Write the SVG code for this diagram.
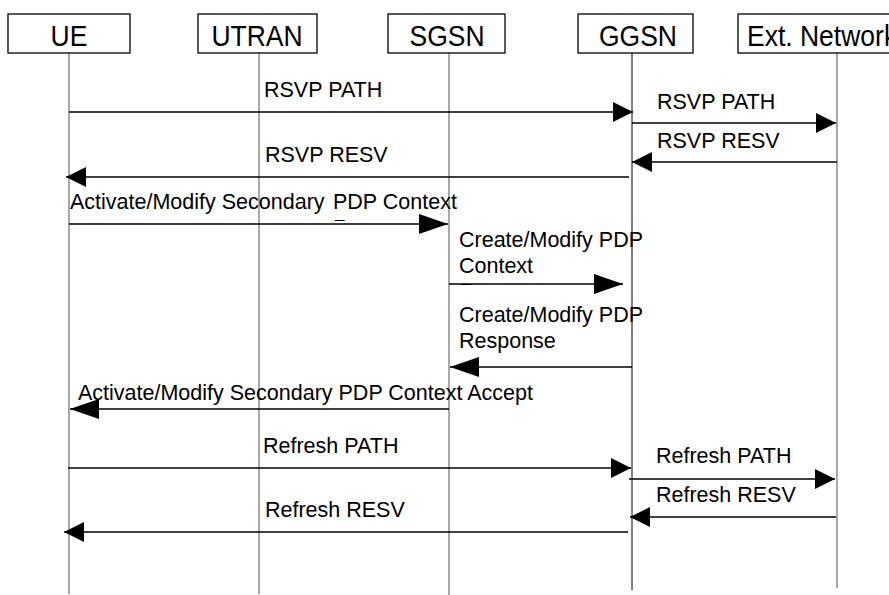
<svg xmlns="http://www.w3.org/2000/svg" width="889" height="595" viewBox="0 0 889 595">
  <style>
    .box { fill: #ffffff; stroke: #000000; stroke-width: 1.3; }
    .title { font-family: "Liberation Sans", Arial, sans-serif; font-size: 26.5px; fill: #000000; }
    .life { stroke: #7a7a7a; stroke-width: 1.3; fill: none; }
    .life-dark { stroke: #000000; stroke-width: 1; fill: none; }
    .msg { stroke: #000000; stroke-width: 1.6; fill: none; }
    .short { marker-end: url(#head); }
    .long { marker-end: url(#headLong); }
    .lbl { font-family: "Liberation Sans", Arial, sans-serif; font-size: 21.5px; fill: #000000; }
  </style>
  <defs>
    <marker id="head" markerUnits="userSpaceOnUse" markerWidth="20" markerHeight="20" refX="20" refY="10" orient="auto" viewBox="0 0 20 20">
      <path d="M0,0 L20,10 L0,20 Z" fill="#000000"/>
    </marker>
    <marker id="headLong" markerUnits="userSpaceOnUse" markerWidth="29" markerHeight="20" refX="29" refY="10" orient="auto" viewBox="0 0 29 20">
      <path d="M0,0 L29,10 L0,20 Z" fill="#000000"/>
    </marker>
    <clipPath id="cutReq1"><rect x="320" y="210" width="40" height="11"/></clipPath>
    <clipPath id="cutReq2"><rect x="450" y="276" width="40" height="9"/></clipPath>
  </defs>

  <rect width="889" height="595" fill="#ffffff"/>

  <!-- lifelines -->
  <g id="lifelines">
    <line class="life" x1="69" y1="53" x2="69" y2="594"/>
    <line class="life" x1="259" y1="53" x2="259" y2="594"/>
    <line class="life" x1="449" y1="53" x2="449" y2="595"/>
    <line class="life-dark" x1="632" y1="53" x2="632" y2="590"/>
    <line class="life" x1="837" y1="53" x2="837" y2="588"/>
  </g>

  <!-- participants (titles slightly tall, as in the source drawing) -->
  <g id="ue">
    <rect class="box" x="8" y="14" width="122" height="39"/>
    <text class="title" transform="translate(69 45.5) scale(1 1.1)" text-anchor="middle">UE</text>
  </g>
  <g id="utran">
    <rect class="box" x="198" y="14" width="119" height="39"/>
    <text class="title" transform="translate(257 45.5) scale(1 1.1)" text-anchor="middle">UTRAN</text>
  </g>
  <g id="sgsn">
    <rect class="box" x="388" y="14" width="117" height="39"/>
    <text class="title" transform="translate(447 45.5) scale(1 1.1)" text-anchor="middle">SGSN</text>
  </g>
  <g id="ggsn">
    <rect class="box" x="578" y="14" width="115" height="39"/>
    <text class="title" transform="translate(638 45.5) scale(1 1.1)" text-anchor="middle">GGSN</text>
  </g>
  <g id="ext-network">
    <rect class="box" x="738" y="14" width="170" height="39"/>
    <text class="title" transform="translate(747 45.5) scale(1 1.1)">Ext. Network</text>
  </g>

  <!-- messages -->
  <g id="connectors">
    <line class="msg short" x1="69" y1="112" x2="633" y2="112"/>
    <line class="msg short" x1="632" y1="123" x2="836" y2="123"/>
    <line class="msg short" x1="837" y1="162" x2="632" y2="162"/>
    <line class="msg short" x1="629" y1="177" x2="66" y2="177"/>
    <line class="msg long" x1="69" y1="224" x2="448" y2="224"/>
    <line class="msg long" x1="449" y1="284" x2="623" y2="284"/>
    <line class="msg long" x1="632" y1="367" x2="450" y2="367"/>
    <line class="msg long" x1="449" y1="409" x2="70" y2="409"/>
    <line class="msg short" x1="68" y1="468" x2="631" y2="468"/>
    <line class="msg short" x1="629" y1="479" x2="835" y2="479"/>
    <line class="msg short" x1="836" y1="517" x2="630" y2="517"/>
    <line class="msg short" x1="628" y1="532" x2="64" y2="532"/>
  </g>

  <!-- message labels -->
  <g id="labels">
    <text class="lbl" x="264" y="97">RSVP PATH</text>
    <text class="lbl" x="657" y="109">RSVP PATH</text>
    <text class="lbl" x="657" y="148">RSVP RESV</text>
    <text class="lbl" x="265" y="162">RSVP RESV</text>
    <text class="lbl" x="70" y="209">Activate/Modify Secondary</text>
    <text class="lbl" x="333" y="209">PDP Context</text>
    <text class="lbl" x="333" y="234.5" clip-path="url(#cutReq1)">Request</text>
    <text class="lbl" x="459" y="247">Create/Modify PDP</text>
    <text class="lbl" x="459" y="273">Context</text>
    <text class="lbl" x="459" y="299" clip-path="url(#cutReq2)">Request</text>
    <text class="lbl" x="459" y="322">Create/Modify PDP</text>
    <text class="lbl" x="459" y="348">Response</text>
    <text class="lbl" x="78" y="400">Activate/Modify Secondary PDP Context Accept</text>
    <text class="lbl" x="263" y="453">Refresh PATH</text>
    <text class="lbl" x="656" y="463">Refresh PATH</text>
    <text class="lbl" x="656" y="502">Refresh RESV</text>
    <text class="lbl" x="265" y="517">Refresh RESV</text>
  </g>
</svg>
